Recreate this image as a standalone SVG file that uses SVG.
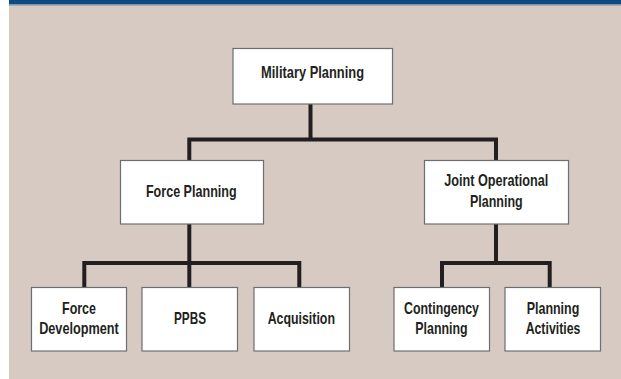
<svg xmlns="http://www.w3.org/2000/svg" width="621" height="379" viewBox="0 0 621 379">
<style>
.box{fill:#ffffff;stroke:#6d6e70;stroke-width:1.2}
.lbl{font-family:"Liberation Sans",Arial,sans-serif;font-size:17px;font-weight:bold;fill:#231f20;text-anchor:middle}
.conn{fill:none;stroke:#231f20;stroke-width:4;stroke-linejoin:miter}
</style>
<rect x="0" y="0" width="621" height="379" fill="#ffffff"/>
<rect x="9" y="0" width="612" height="379" fill="#d6cac2"/>
<rect x="9" y="0" width="612" height="4.5" fill="#0d4a82"/>
<rect x="9" y="4.5" width="612" height="1.2" fill="#8e9fae"/>
<g id="connectors">
<path class="conn" d="M310.5 104 V139.5"/>
<path class="conn" d="M189.3 160.5 V139.5 H496 V160.5"/>
<path class="conn" d="M189.3 224 V287.5"/>
<path class="conn" d="M84.3 287.5 V263 H299.3 V287.5"/>
<path class="conn" d="M496 224 V263"/>
<path class="conn" d="M442 287.5 V263 H549.7 V287.5"/>
</g>
<g id="military-planning">
<rect class="box" x="233" y="48.5" width="159.5" height="55.5"/>
<text class="lbl" x="312.5" y="78" textLength="103" lengthAdjust="spacingAndGlyphs">Military Planning</text>
</g>
<g id="force-planning">
<rect class="box" x="120.5" y="160.5" width="143" height="63.5"/>
<text class="lbl" x="191.3" y="197" textLength="90.7" lengthAdjust="spacingAndGlyphs">Force Planning</text>
</g>
<g id="joint-operational-planning">
<rect class="box" x="424.5" y="160.5" width="144" height="63.5"/>
<text class="lbl" x="496.3" y="186.3" textLength="104" lengthAdjust="spacingAndGlyphs">Joint Operational</text>
<text class="lbl" x="496.3" y="207" textLength="52.7" lengthAdjust="spacingAndGlyphs">Planning</text>
</g>
<g id="force-development">
<rect class="box" x="31.5" y="287.5" width="95" height="63.5"/>
<text class="lbl" x="79" y="313.8" textLength="34" lengthAdjust="spacingAndGlyphs">Force</text>
<text class="lbl" x="79" y="333.8" textLength="79.7" lengthAdjust="spacingAndGlyphs">Development</text>
</g>
<g id="ppbs">
<rect class="box" x="142" y="287.5" width="95.5" height="63.5"/>
<text class="lbl" x="190" y="324.3" textLength="32" lengthAdjust="spacingAndGlyphs">PPBS</text>
</g>
<g id="acquisition">
<rect class="box" x="254" y="287.5" width="95.5" height="63.5"/>
<text class="lbl" x="301.3" y="324.3" textLength="67.3" lengthAdjust="spacingAndGlyphs">Acquisition</text>
</g>
<g id="contingency-planning">
<rect class="box" x="394" y="287.5" width="95.5" height="63.5"/>
<text class="lbl" x="441.5" y="314.3" textLength="75" lengthAdjust="spacingAndGlyphs">Contingency</text>
<text class="lbl" x="441.5" y="334.3" textLength="52.3" lengthAdjust="spacingAndGlyphs">Planning</text>
</g>
<g id="planning-activities">
<rect class="box" x="505" y="287.5" width="95.5" height="63.5"/>
<text class="lbl" x="553" y="314.3" textLength="52.7" lengthAdjust="spacingAndGlyphs">Planning</text>
<text class="lbl" x="553" y="334.3" textLength="54.7" lengthAdjust="spacingAndGlyphs">Activities</text>
</g>
</svg>
